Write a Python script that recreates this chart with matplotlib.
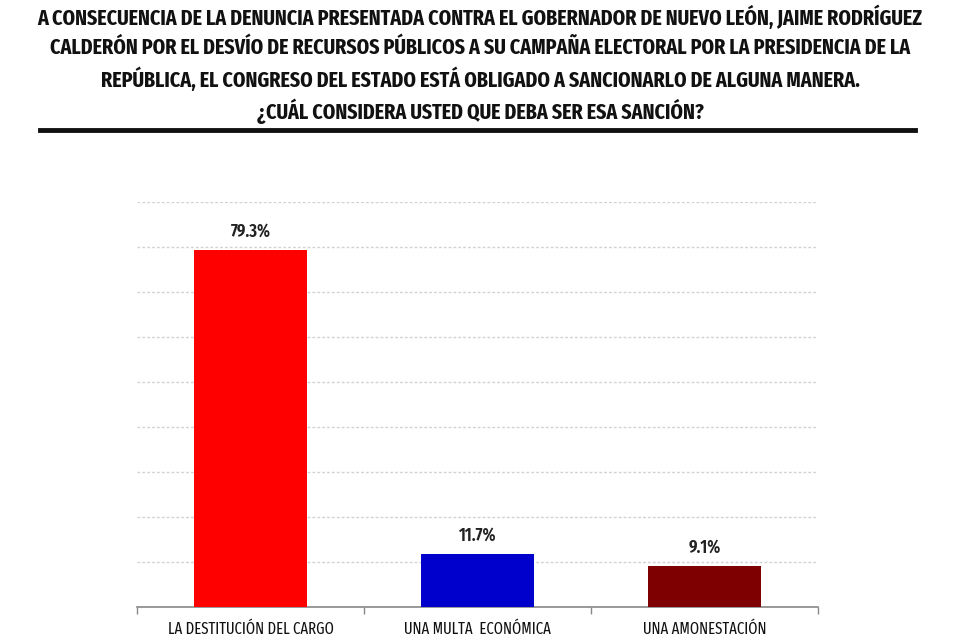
import matplotlib
matplotlib.use("Agg")
import matplotlib.pyplot as plt
from matplotlib.lines import Line2D

# --- DATA ---
CATEGORIES = ["LA DESTITUCIÓN DEL CARGO", "UNA MULTA  ECONÓMICA", "UNA AMONESTACIÓN"]
VALUES = [79.3, 11.7, 9.1]
VALUE_LABELS = ["79.3%", "11.7%", "9.1%"]
COLORS = ["#FF0000", "#0000CC", "#7F0000"]
TITLE_LINES = [
    "A CONSECUENCIA DE LA DENUNCIA PRESENTADA CONTRA EL GOBERNADOR DE NUEVO LEÓN, JAIME RODRÍGUEZ",
    "CALDERÓN POR EL DESVÍO DE RECURSOS PÚBLICOS A SU CAMPAÑA ELECTORAL POR LA PRESIDENCIA DE LA",
    "REPÚBLICA, EL CONGRESO DEL ESTADO ESTÁ OBLIGADO A SANCIONARLO DE ALGUNA MANERA.",
    "¿CUÁL CONSIDERA USTED QUE DEBA SER ESA SANCIÓN?",
]

FONT = ["Fira Sans Extra Condensed", "DejaVu Sans"]

fig = plt.figure(figsize=(9.6, 6.4), dpi=100)

# title block
for i, line in enumerate(TITLE_LINES):
    fig.text(0.5, 1 - (17 + i * 31.3) / 640, line, ha="center", va="center",
             fontsize=15.6, fontweight="bold", family=FONT, color="#111111")
fig.add_artist(Line2D([40 / 960, 915 / 960], [1 - 130 / 640] * 2,
                      color="#111111", linewidth=3.5))

ax = fig.add_axes([137 / 960, 1 - 607 / 640, 681 / 960, 405 / 640])
x = range(len(CATEGORIES))
bars = ax.bar(x, VALUES, width=0.5, color=COLORS, zorder=3)

for rect, lab in zip(bars, VALUE_LABELS):
    ax.annotate(lab, (rect.get_x() + rect.get_width() / 2, rect.get_height()),
                xytext=(0, 7), textcoords="offset points", ha="center", va="bottom",
                fontsize=13, fontweight="semibold", family=FONT, color="#222222")

ax.set_xlim(-0.5, len(CATEGORIES) - 0.5)
ax.set_ylim(0, 90)
ax.set_yticks(range(10, 91, 10))
ax.yaxis.grid(True, linestyle=(0, (2, 1.5)), color="#d2d2d2", linewidth=1.0, zorder=0)
ax.tick_params(axis="y", left=False, labelleft=False)

ax.set_xticks(list(x))
ax.set_xticklabels(CATEGORIES, family=FONT, fontsize=11.5, color="#111111")
ax.tick_params(axis="x", which="major", length=0, pad=10)
ax.set_xticks([-0.5, 0.5, 1.5, 2.5], minor=True)
ax.tick_params(axis="x", which="minor", length=5, color="#888888", width=1)

for s in ["top", "right", "left"]:
    ax.spines[s].set_visible(False)
ax.spines["bottom"].set_color("#888888")
ax.spines["bottom"].set_linewidth(1.2)

fig.savefig("out.png", dpi=100, facecolor="white")
